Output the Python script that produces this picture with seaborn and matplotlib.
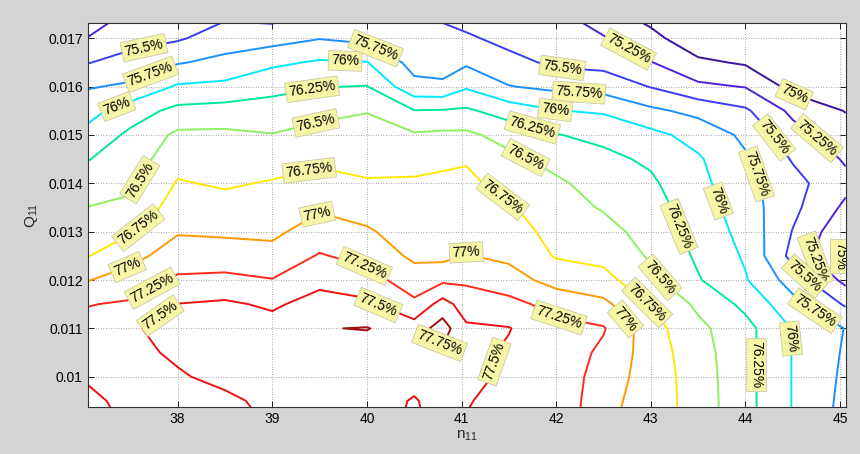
import numpy as np
import matplotlib
matplotlib.use("Agg")
import matplotlib.pyplot as plt
import seaborn as sns

# ---- data (efficiency in %) ----
n11 = [37.05, 37.5, 38.0, 38.5, 39.0, 39.5, 40.0, 40.5, 40.8, 41.05,
       41.5, 42.0, 42.5, 43.0, 43.5, 44.0, 44.5, 45.06]
q11 = [0.0090, 0.0095, 0.0100, 0.0105, 0.0110, 0.0115, 0.0120, 0.0125, 0.0130,
       0.0135, 0.0140, 0.0145, 0.0150, 0.0155, 0.0160, 0.0165, 0.0170, 0.0175]

# one list per n11 column, from lowest to highest q11
eff_n37_05 = [77.60, 77.54, 77.48, 77.40, 77.33, 77.24, 76.99, 76.74, 76.62, 76.505, 76.37, 76.24, 76.08, 75.91, 75.73, 75.49, 75.26, 75.05]
eff_n37_5 = [77.47, 77.45, 77.43, 77.45, 77.48, 77.28, 77.11, 76.92, 76.73, 76.55, 76.45, 76.37, 76.30, 76.13, 75.79, 75.59, 75.41, 75.30]
eff_n38_0 = [77.38, 77.42, 77.48, 77.53, 77.56, 77.505, 77.29, 77.12, 76.98, 76.87, 76.77, 76.66, 76.55, 76.32, 76.03, 75.73, 75.47, 75.27]
eff_n38_5 = [77.40, 77.46, 77.55, 77.60, 77.60, 77.54, 77.31, 77.12, 76.96, 76.84, 76.72, 76.64, 76.55, 76.35, 76.06, 75.82, 75.62, 75.45]
eff_n39_0 = [77.52, 77.55, 77.58, 77.60, 77.60, 77.46, 77.26, 77.08, 76.95, 76.86, 76.77, 76.64, 76.51, 76.35, 76.18, 75.95, 75.65, 75.40]
eff_n39_5 = [77.60, 77.62, 77.64, 77.66, 77.74, 77.60, 77.43, 77.27, 77.11, 76.97, 76.84, 76.70, 76.58, 76.43, 76.24, 76.03, 75.74, 75.55]
eff_n40_0 = [77.60, 77.62, 77.63, 77.64, 77.76, 77.55, 77.35, 77.17, 77.03, 76.90, 76.77, 76.68, 76.59, 76.49, 76.26, 76.01, 75.68, 75.58]
eff_n40_5 = [77.46, 77.48, 77.58, 77.60, 77.62, 77.30, 77.12, 76.95, 76.88, 76.82, 76.78, 76.67, 76.53, 76.26, 75.82, 75.66, 75.62, 75.58]
eff_n40_8 = [77.58, 77.60, 77.65, 77.72, 77.86, 77.60, 77.20, 76.93, 76.89, 76.85, 76.79, 76.71, 76.55, 76.27, 75.80, 75.64, 75.57, 75.46]
eff_n41_05 = [77.49, 77.51, 77.56, 77.57, 77.54, 77.38, 77.21, 77.01, 76.94, 76.87, 76.80, 76.73, 76.55, 76.29, 75.97, 75.71, 75.54, 75.38]
eff_n41_5 = [77.44, 77.45, 77.46, 77.47, 77.51, 77.33, 77.10, 76.95, 76.86, 76.78, 76.67, 76.56, 76.41, 76.14, 75.76, 75.58, 75.42, 75.35]
eff_n42_0 = [77.45, 77.45, 77.44, 77.40, 77.33, 77.16, 76.91, 76.73, 76.67, 76.60, 76.54, 76.42, 76.26, 76.01, 75.69, 75.45, 75.38, 75.30]
eff_n42_5 = [77.04, 77.07, 77.12, 77.20, 77.27, 77.06, 76.83, 76.68, 76.58, 76.48, 76.40, 76.31, 76.19, 75.97, 75.65, 75.42, 75.27, 75.10]
eff_n43_0 = [76.90, 76.90, 76.90, 76.88, 76.85, 76.74, 76.57, 76.47, 76.41, 76.35, 76.29, 76.21, 76.07, 75.80, 75.49, 75.26, 75.08, 74.90]
eff_n43_5 = [76.63, 76.63, 76.62, 76.60, 76.56, 76.45, 76.27, 76.21, 76.16, 76.12, 76.07, 76.03, 75.91, 75.68, 75.30, 75.05, 74.82, 74.75]
eff_n44_0 = [76.33, 76.33, 76.33, 76.33, 76.33, 76.19, 76.02, 75.97, 75.92, 75.87, 75.83, 75.78, 75.70, 75.54, 75.24, 74.97, 74.85, 74.75]
eff_n44_5 = [75.99, 75.99, 75.99, 75.99, 75.985, 75.83, 75.64, 75.42, 75.49, 75.56, 75.58, 75.48, 75.35, 75.19, 74.92, 74.90, 74.87, 74.82]
eff_n45_06 = [75.66, 75.68, 75.70, 75.72, 75.74, 75.47, 75.18, 74.95, 75.05, 75.20, 75.32, 75.22, 75.10, 74.99, 74.95, 74.90, 74.85, 74.80]

levels = [75.0, 75.25, 75.5, 75.75, 76.0, 76.25, 76.5, 76.75, 77.0, 77.25, 77.5, 77.75]
level_colors = ["#3c10a0", "#4f22d8", "#3a3cf5", "#1a90ff", "#00e8ff", "#00e8a0",
                "#8cf060", "#ffe800", "#ff9a00", "#ff2a1a", "#f01010", "#a01010"]

x_ticks = [38, 39, 40, 41, 42, 43, 44, 45]
y_ticks = [0.010, 0.011, 0.012, 0.013, 0.014, 0.015, 0.016, 0.017]
y_tick_labels = ["0.01", "0.011", "0.012", "0.013", "0.014", "0.015", "0.016", "0.017"]

# label anchor points (n11, Q11) where the reference puts its contour labels
label_points = [
    (37.64, 0.01686), (37.73, 0.01617), (37.36, 0.01558), (37.64, 0.01403),
    (37.59, 0.01307), (37.48, 0.01220), (37.73, 0.01183), (37.80, 0.01131),
    (39.77, 0.01652), (40.09, 0.01679), (39.42, 0.01597), (39.45, 0.01534),
    (39.38, 0.01434), (39.47, 0.01338), (39.97, 0.01227), (40.14, 0.01158),
    (40.76, 0.01069), (41.04, 0.01286), (41.36, 0.01031), (42.06, 0.01628),
    (42.24, 0.01585), (41.99, 0.01551), (41.76, 0.01523), (41.69, 0.01458),
    (41.48, 0.01385), (42.75, 0.01672), (42.04, 0.01131), (42.76, 0.01124),
    (42.94, 0.01148), (43.08, 0.01203), (43.25, 0.01307), (43.79, 0.01369),
    (44.21, 0.01427), (44.31, 0.01496), (44.49, 0.01569), (44.72, 0.01486),
    (44.75, 0.01245), (44.92, 0.01248), (44.60, 0.01203), (44.74, 0.01138),
    (44.12, 0.01024), (44.51, 0.01079),
]

# ---- style ----
sns.set_style("ticks")
plt.rcParams["font.family"] = ["Liberation Sans", "DejaVu Sans"]
plt.rcParams["mathtext.default"] = "regular"
palette = sns.color_palette(level_colors)

Z = np.column_stack([eff_n37_05, eff_n37_5, eff_n38_0, eff_n38_5, eff_n39_0, eff_n39_5,
                     eff_n40_0, eff_n40_5, eff_n40_8, eff_n41_05, eff_n41_5, eff_n42_0,
                     eff_n42_5, eff_n43_0, eff_n43_5, eff_n44_0, eff_n44_5, eff_n45_06])
X, Y = np.meshgrid(np.array(n11), np.array(q11))

fig = plt.figure(figsize=(8.6, 4.54), dpi=100, facecolor="#d4d4d4")
ax = fig.add_axes([0.102, 0.1042, 0.8814, 0.8445])
ax.set_facecolor("white")

cs = ax.contour(X, Y, Z, levels=levels, colors=palette, linewidths=1.4)
ax.set_xlim(37.05, 45.06)
ax.set_ylim(0.00938, 0.01731)

texts = ax.clabel(cs, levels=levels, manual=label_points, inline=False,
                  fmt=lambda v: f"{v:g}%", fontsize=10, colors="black")
for t in texts:
    t.set_bbox(dict(boxstyle="square,pad=0.2", facecolor="#f6f6a6",
                    edgecolor="#c9c9a8", linewidth=0.6))
    t.set_zorder(5)

ax.set_xticks(x_ticks)
ax.set_xticklabels([str(v) for v in x_ticks])
ax.set_yticks(y_ticks)
ax.set_yticklabels(y_tick_labels)
ax.grid(True, linestyle=(0, (1, 2)), color="#8a8a8a", linewidth=0.6)
ax.tick_params(direction="in", length=4, width=0.6, top=True, right=True,
               labelsize=10, colors="black")
for s in ax.spines.values():
    s.set_color("#303030")
    s.set_linewidth(0.8)

ax.set_xlabel("n$_{11}$", fontsize=11, labelpad=2)
ax.set_ylabel("Q$_{11}$", fontsize=11, labelpad=6)

fig.savefig("out.png", dpi=100, facecolor=fig.get_facecolor())
